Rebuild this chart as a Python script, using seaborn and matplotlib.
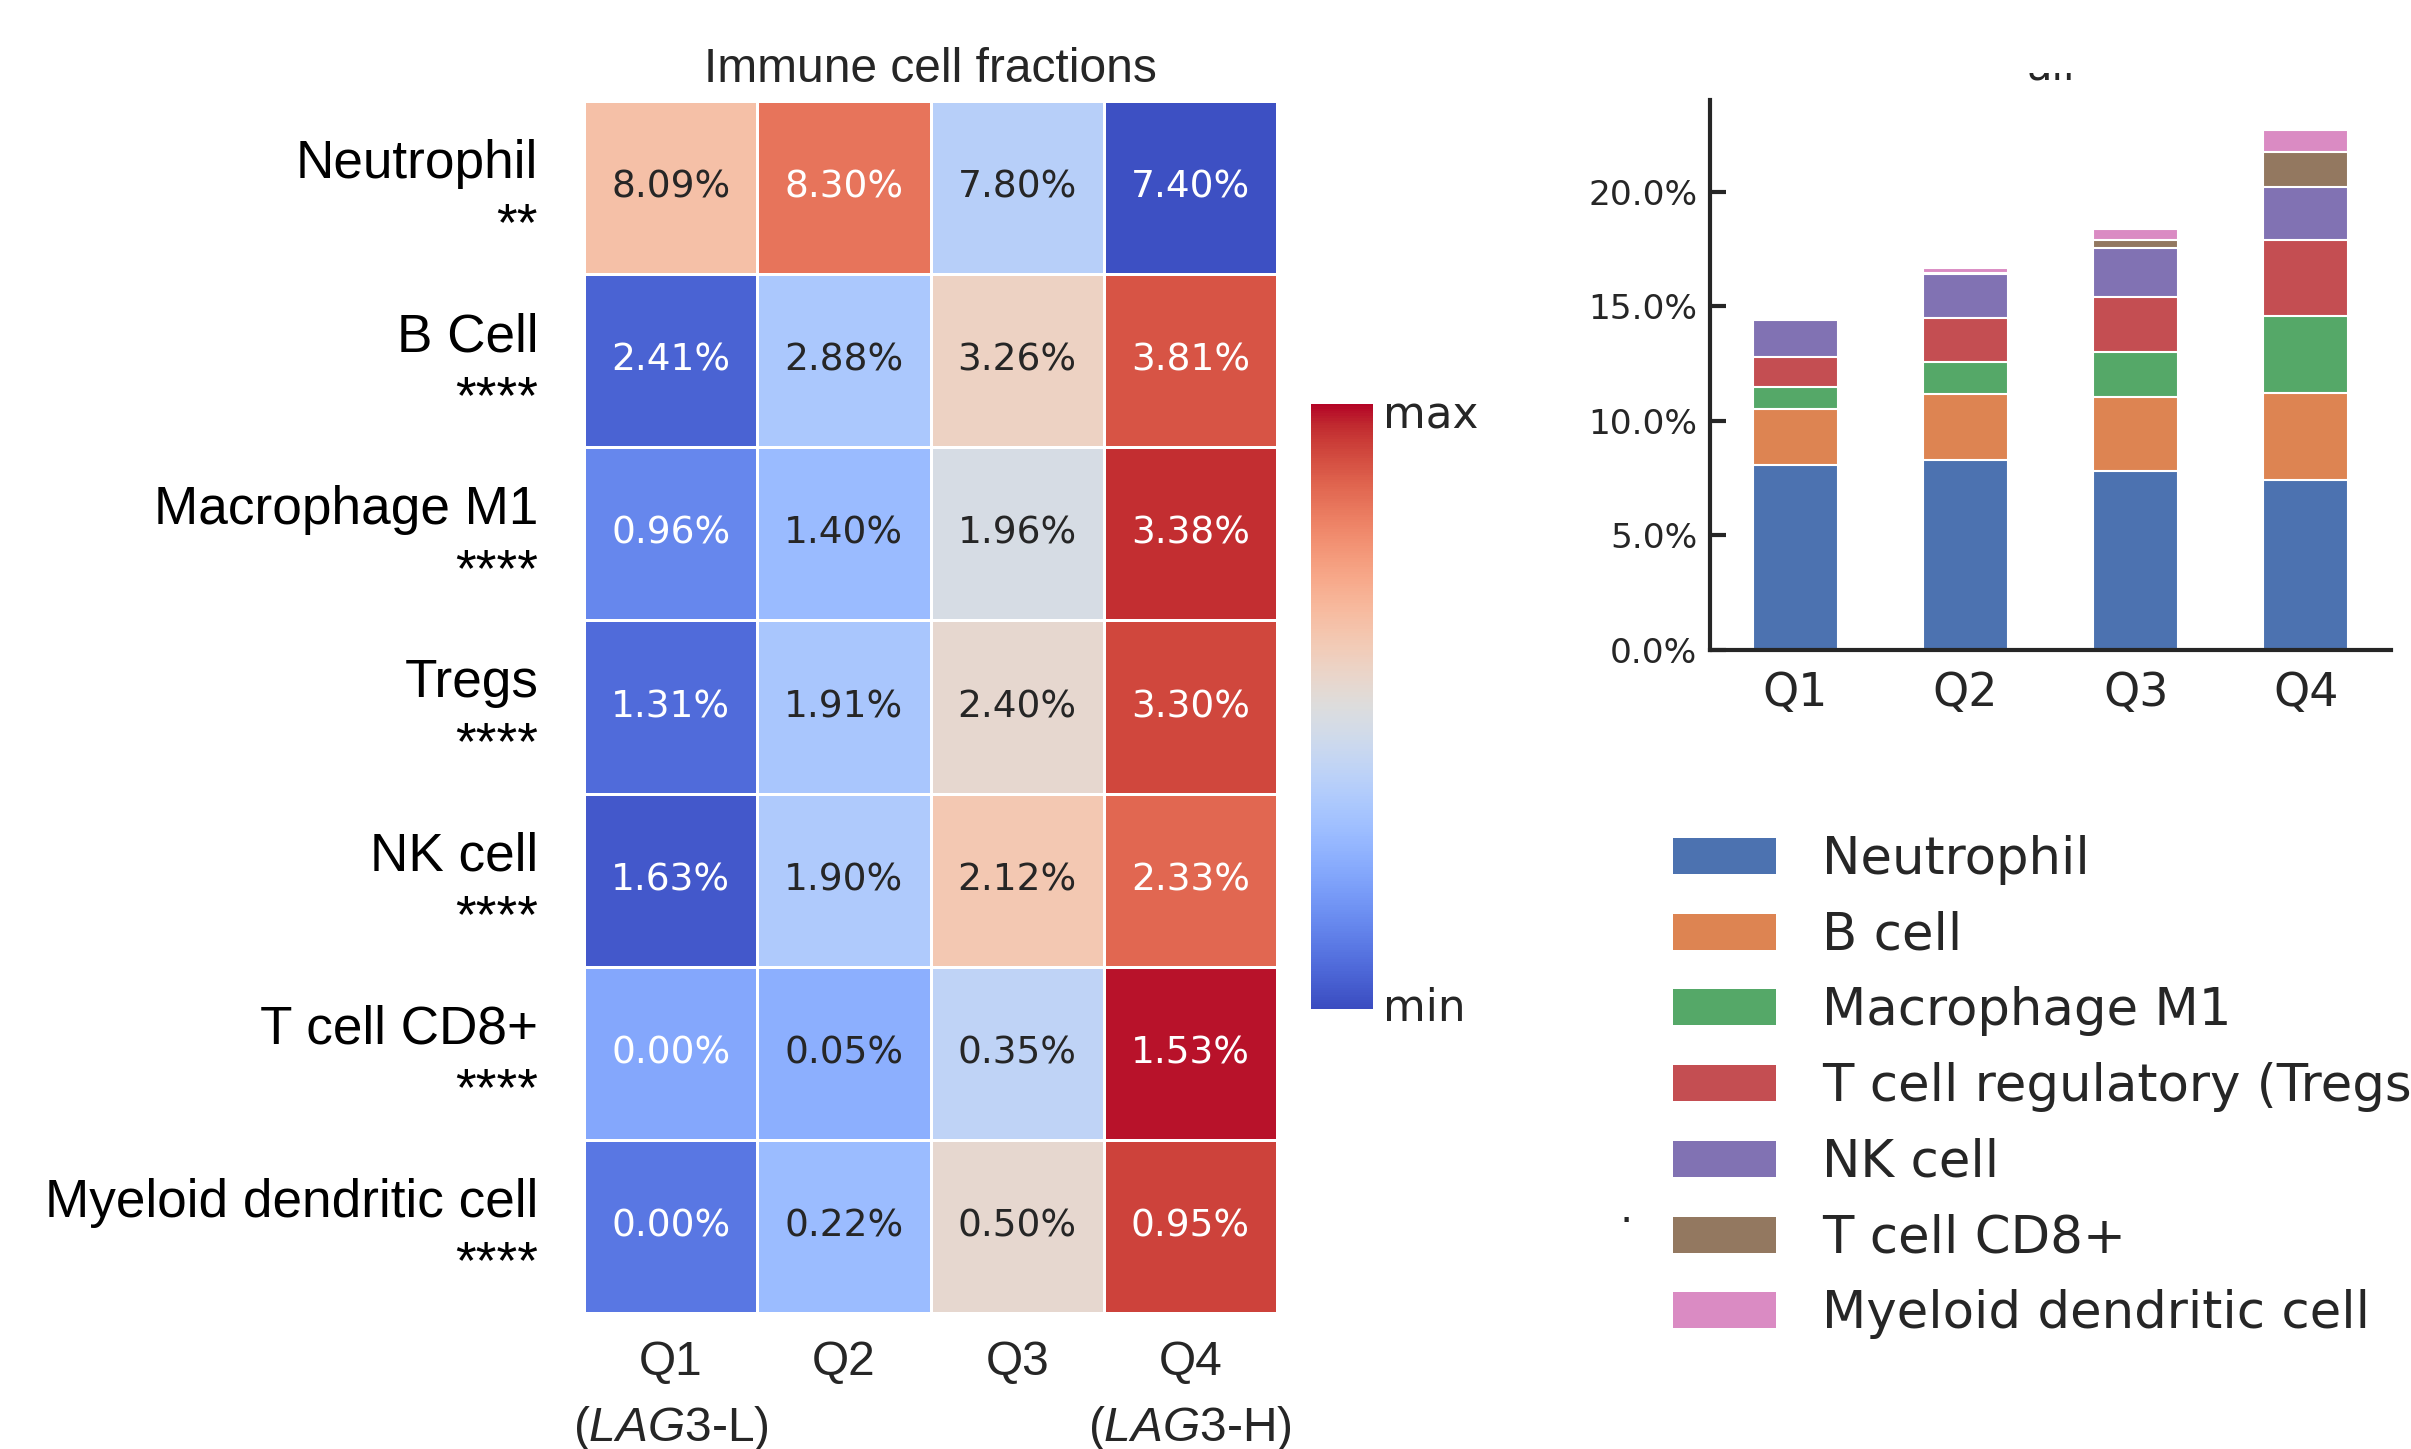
import numpy as np
import pandas as pd
import matplotlib
matplotlib.use("Agg")
import matplotlib.pyplot as plt
from matplotlib.patches import Patch, Rectangle
from matplotlib.ticker import PercentFormatter
import seaborn as sns

# ---- data -------------------------------------------------------------
quartiles = ["Q1", "Q2", "Q3", "Q4"]
quartile_ticklabels = ["Q1\n($\\it{LAG3}$-L)", "Q2", "Q3", "Q4\n($\\it{LAG3}$-H)"]
cell_types = ["Neutrophil", "B Cell", "Macrophage M1", "Tregs",
              "NK cell", "T cell CD8+", "Myeloid dendritic cell"]
legend_names = ["Neutrophil", "B cell", "Macrophage M1",
                "T cell regulatory (Tregs)", "NK cell", "T cell CD8+",
                "Myeloid dendritic cell"]
significance = ["**", "****", "****", "****", "****", "****", "****"]

neutrophil = [8.09, 8.30, 7.80, 7.40]
b_cell = [2.41, 2.88, 3.26, 3.81]
macrophage_m1 = [0.96, 1.40, 1.96, 3.38]
tregs = [1.31, 1.91, 2.40, 3.30]
nk_cell = [1.63, 1.90, 2.12, 2.33]
t_cell_cd8 = [0.00, 0.05, 0.35, 1.53]
myeloid_dc = [0.00, 0.22, 0.50, 0.95]

fractions = pd.DataFrame(
    [neutrophil, b_cell, macrophage_m1, tregs, nk_cell, t_cell_cd8, myeloid_dc],
    index=cell_types, columns=quartiles)

# row-wise z-score for the heatmap colours
zscores = fractions.sub(fractions.mean(axis=1), axis=0).div(fractions.std(axis=1, ddof=1), axis=0)
annot = fractions.apply(lambda col: col.map(lambda v: f"{v:.2f}%"))

# ---- style ------------------------------------------------------------
sns.set_style("ticks")
plt.rcParams["font.family"] = ["DejaVu Sans"]
plt.rcParams["mathtext.fontset"] = "custom"
plt.rcParams["mathtext.rm"] = "Liberation Sans"
plt.rcParams["mathtext.it"] = "Liberation Sans:italic"
TXT = "#262626"

W, H, DPI = 2411, 1449, 150
fig = plt.figure(figsize=(W / DPI, H / DPI), dpi=DPI)

ax_hm = fig.add_axes([584 / W, 1 - 1313 / H, 693 / W, 1212 / H])
cax = fig.add_axes([1311 / W, 1 - 1009 / H, 62 / W, 605 / H])
ax_bar = fig.add_axes([1710 / W, 1 - 650 / H, 681 / W, 550 / H])

# ---- heatmap ----------------------------------------------------------
vmin, vmax = -1.3, 1.5
z_lo, z_hi = zscores.min().min(), zscores.max().max()
cmap = plt.get_cmap("coolwarm")
sns.heatmap(zscores, ax=ax_hm, cmap=cmap, vmin=vmin, vmax=vmax,
            annot=annot, fmt="", annot_kws={"fontsize": 18},
            linewidths=1.2, linecolor="white",
            cbar_ax=cax, cbar_kws={"ticks": [z_lo, z_hi]})

norm = plt.Normalize(vmin, vmax)
ncol = len(quartiles)
for k, txt in enumerate(ax_hm.texts):
    r, c = divmod(k, ncol)
    level = norm(zscores.iat[r, c])
    txt.set_color("white" if (level < 0.235 or level > 0.8) else TXT)

# row names with significance stars beneath them
ax_hm.set_yticklabels([])
for i, (name, stars) in enumerate(zip(cell_types, significance)):
    ax_hm.annotate(f"{name}\n{stars}", xy=(0, i + 0.5),
                   xycoords=("axes fraction", "data"),
                   xytext=(-22, -3.5), textcoords="offset points",
                   ha="right", va="center", fontsize=25.5, color="black",
                   family="Liberation Sans", linespacing=1.3,
                   annotation_clip=False)

ax_hm.set_xticklabels(quartile_ticklabels, rotation=0, fontsize=23,
                      color=TXT, family="Liberation Sans", linespacing=1.5)
ax_hm.tick_params(axis="y", length=0)
ax_hm.tick_params(axis="x", length=0, pad=13)
ax_hm.set_xlabel("")
ax_hm.set_ylabel("")
ax_hm.set_title("Immune cell fractions", fontsize=23, color=TXT,
                family="Liberation Sans", pad=9)

cbar = ax_hm.collections[0].colorbar
cbar.set_ticklabels(["min", "max"])
cbar.ax.tick_params(length=0, labelsize=21, pad=5, colors=TXT)
cbar.outline.set_visible(False)

# ---- stacked bars -----------------------------------------------------
palette = sns.color_palette("deep", len(legend_names))
cumulative = fractions.cumsum(axis=0)
for i in reversed(range(len(cell_types))):
    sns.barplot(x=quartiles, y=cumulative.iloc[i].values, color=palette[i],
                width=0.5, saturation=1, ax=ax_bar)

ax_bar.set_ylim(0, 24)
ax_bar.yaxis.set_major_formatter(PercentFormatter(decimals=1))
ax_bar.set_yticks([0, 5, 10, 15, 20])
sns.despine(ax=ax_bar)
for side in ("left", "bottom"):
    ax_bar.spines[side].set_linewidth(2)
    ax_bar.spines[side].set_color(TXT)
ax_bar.tick_params(axis="y", direction="in", length=7.5, width=2,
                   labelsize=16.5, pad=6, colors=TXT)
ax_bar.tick_params(axis="x", length=0, labelsize=22, pad=10, colors=TXT)
ax_bar.set_title("all", fontsize=20, pad=9.6, color=TXT)

# upper part of the panel is masked
fig.add_artist(Rectangle((1650 / W, 1 - 73 / H), 1, 1, transform=fig.transFigure,
                         facecolor="white", edgecolor="none", zorder=10))

# ---- legend -----------------------------------------------------------
handles = [Patch(facecolor=palette[i], edgecolor="none") for i in range(len(legend_names))]
fig.legend(handles, legend_names, loc="upper left",
           bbox_to_anchor=(1673 / W, 1 - 835 / H), frameon=False,
           fontsize=24.7, handlelength=2.0, handleheight=0.7,
           handletextpad=0.9, labelspacing=0.5, borderpad=0, borderaxespad=0,
           labelcolor=TXT)
fig.text(1626 / W, 1 - 1222 / H, ".", fontsize=20, color=TXT,
         ha="center", va="baseline")

fig.savefig("out.png", dpi=DPI)
